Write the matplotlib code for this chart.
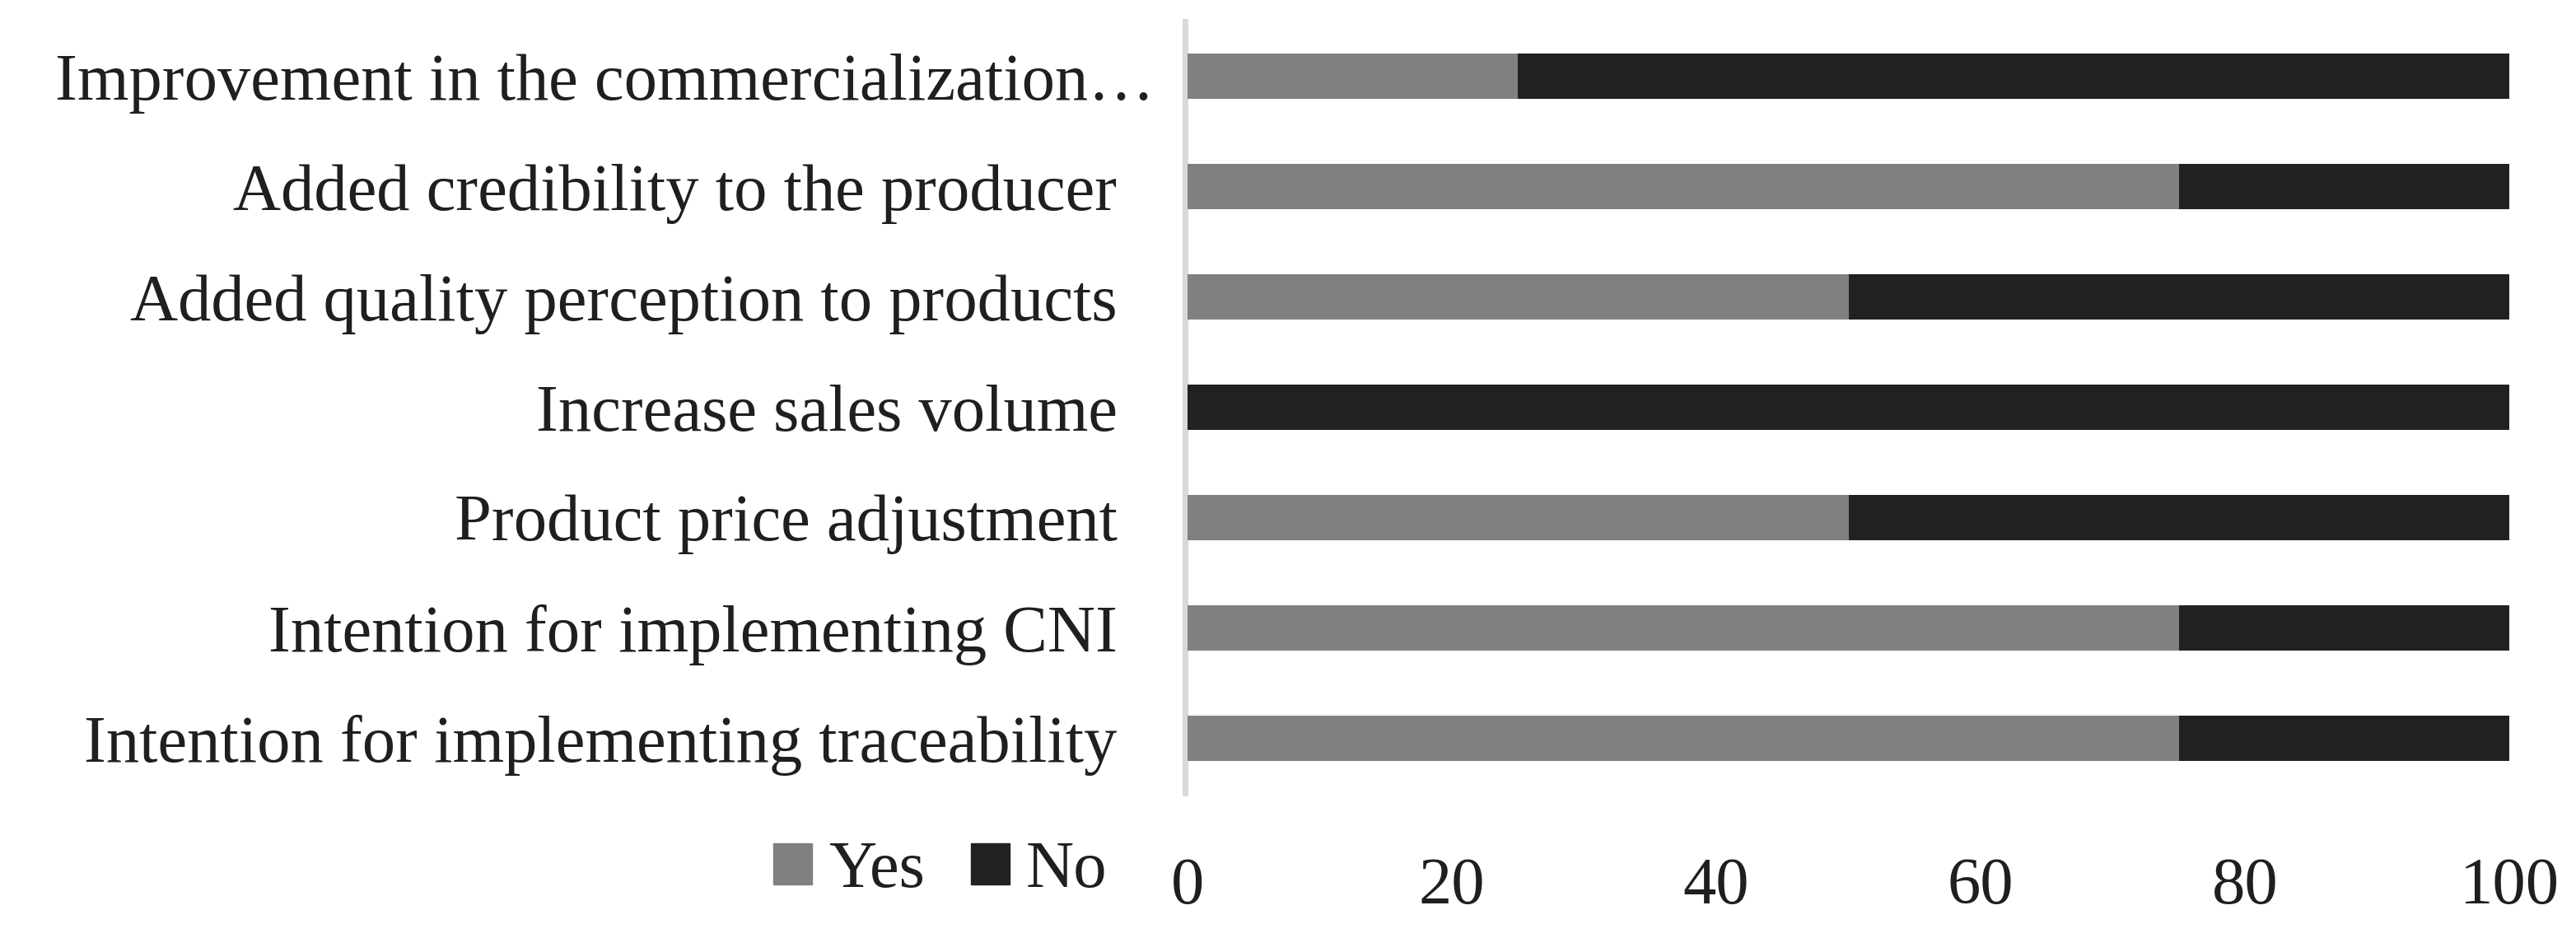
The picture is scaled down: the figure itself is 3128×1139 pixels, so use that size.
import matplotlib
matplotlib.use("Agg")
import matplotlib.pyplot as plt
import matplotlib.transforms as mtransforms
from matplotlib.patches import Patch

# Data (top to bottom as shown)
categories = [
    "Improvement in the commercialization\u2026",
    "Added credibility to the producer",
    "Added quality perception to products",
    "Increase sales volume",
    "Product price adjustment",
    "Intention for implementing CNI",
    "Intention for implementing traceability",
]
yes_vals = [25, 75, 50, 0, 50, 75, 75]
no_vals = [75, 25, 50, 100, 50, 25, 25]
x_ticks = [0, 20, 40, 60, 80, 100]

yes_color = "#808080"
no_color = "#212121"
text_color = "#1f1f1f"
fsize = 58

plt.rcParams["font.family"] = ["Liberation Serif", "DejaVu Serif"]

W, H = 3128, 1139
fig = plt.figure(figsize=(W / 100, H / 100), dpi=100)
ax = fig.add_axes([1442 / W, 1 - 963 / H, (3047 - 1442) / W, (963 - 26) / H])

pos = list(range(len(categories)))
ax.barh(pos, yes_vals, height=0.41, color=yes_color, zorder=3)
ax.barh(pos, no_vals, left=yes_vals, height=0.41, color=no_color, zorder=3)

ax.set_xlim(0, 100)
ax.set_ylim(len(categories) - 0.5, -0.5)
ax.set_xticks(x_ticks, [str(t) for t in x_ticks])
# first (truncated) label is left aligned in the original, drawn separately
ax.set_yticks(pos, [""] + categories[1:])
ax.tick_params(axis="x", length=0, pad=56, labelsize=fsize, labelcolor=text_color)
ax.tick_params(axis="y", length=0, pad=59, labelsize=fsize, labelcolor=text_color)

trans = mtransforms.blended_transform_factory(fig.transFigure, ax.transData)
ax.text(67 / W, pos[0], categories[0], transform=trans, ha="left",
        va="center_baseline", fontsize=fsize, color=text_color)

for s in ["top", "right", "bottom"]:
    ax.spines[s].set_visible(False)
ax.spines["left"].set_color("#d9d9d9")
ax.spines["left"].set_linewidth(5)
ax.spines["left"].set_position(("outward", 2.5))

handles = [Patch(color=yes_color, label="Yes"), Patch(color=no_color, label="No")]
fig.legend(handles=handles, loc="center left",
           bbox_to_anchor=(939 / W, 1 - 1058 / H), ncol=2, frameon=False,
           fontsize=fsize, handlelength=0.58, handleheight=0.58,
           handletextpad=0.25, columnspacing=0.7, borderpad=0, borderaxespad=0,
           labelcolor=text_color)

fig.savefig("out.png", dpi=100)
